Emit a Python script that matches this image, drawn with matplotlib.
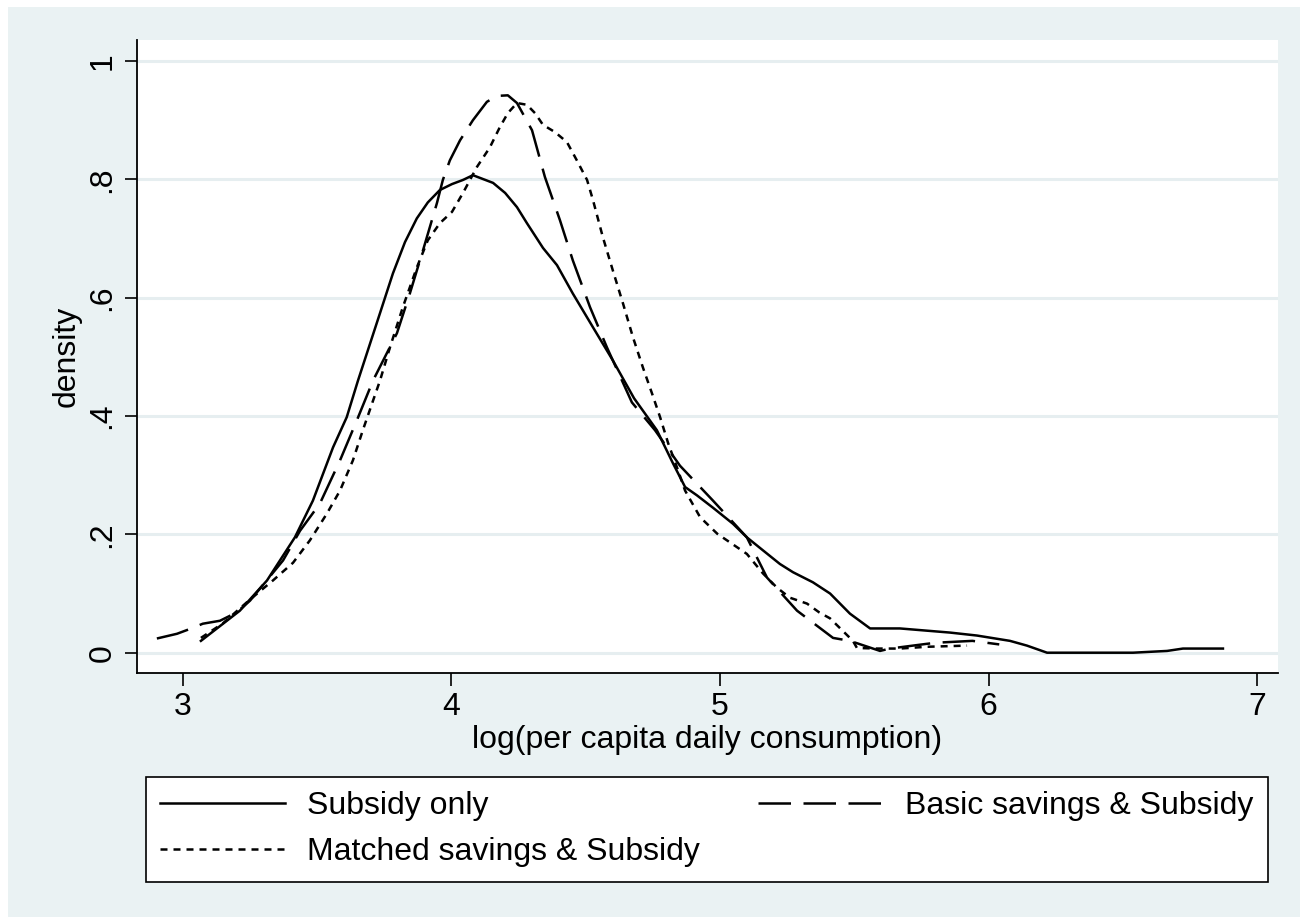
import matplotlib
matplotlib.use('Agg')
import matplotlib.pyplot as plt
from matplotlib.patches import Rectangle
from matplotlib.lines import Line2D

plt.rcParams['font.family'] = ['Liberation Sans', 'DejaVu Sans']

# Kernel density curves
subsidy_x = [3.067, 3.212, 3.313, 3.417, 3.484, 3.559, 3.61, 3.652, 3.734, 3.782,
             3.827, 3.871, 3.912, 3.957, 4.002, 4.043, 4.08, 4.155, 4.2, 4.244,
             4.281, 4.341, 4.393, 4.452, 4.527, 4.601, 4.68, 4.765, 4.825, 4.87,
             4.914, 4.974, 5.048, 5.1, 5.16, 5.223, 5.272, 5.346, 5.41, 5.484,
             5.559, 5.67, 5.857, 5.957, 6.08, 6.143, 6.218, 6.538, 6.665, 6.724, 6.873]
subsidy_y = [0.02, 0.071, 0.122, 0.195, 0.257, 0.347, 0.398, 0.46, 0.574, 0.641,
             0.694, 0.734, 0.761, 0.782, 0.792, 0.799, 0.807, 0.794, 0.777, 0.753,
             0.726, 0.684, 0.655, 0.607, 0.55, 0.494, 0.43, 0.376, 0.32, 0.28,
             0.266, 0.245, 0.218, 0.195, 0.173, 0.15, 0.136, 0.119, 0.1, 0.066,
             0.041, 0.041, 0.034, 0.029, 0.02, 0.012, 0.0, 0.0, 0.003, 0.007, 0.007]

basic_x = [2.903, 2.978, 3.037, 3.074, 3.138, 3.2, 3.25, 3.317, 3.373, 3.436,
           3.51, 3.585, 3.648, 3.708, 3.797, 3.845, 3.894, 3.946, 3.968, 3.994,
           4.032, 4.08, 4.132, 4.169, 4.21, 4.244, 4.30, 4.348, 4.404, 4.452,
           4.516, 4.579, 4.672, 4.758, 4.851, 4.974, 5.1, 5.175, 5.287, 5.421,
           5.484, 5.596, 5.633, 5.77, 5.81, 5.94, 5.99, 6.04]
basic_y = [0.024, 0.032, 0.042, 0.049, 0.054, 0.068, 0.088, 0.125, 0.156, 0.206,
           0.252, 0.325, 0.393, 0.46, 0.54, 0.607, 0.68, 0.76, 0.799, 0.832,
           0.866, 0.9, 0.931, 0.941, 0.942, 0.929, 0.883, 0.804, 0.731, 0.663,
           0.584, 0.516, 0.423, 0.376, 0.316, 0.257, 0.195, 0.127, 0.071, 0.025,
           0.02, 0.003, 0.007, 0.015, 0.017, 0.02, 0.017, 0.014]

matched_x = [3.067, 3.15, 3.25, 3.335, 3.41, 3.473, 3.536, 3.585, 3.633, 3.67,
             3.708, 3.734, 3.771, 3.819, 3.871, 3.912, 3.957, 4.002, 4.043, 4.095,
             4.143, 4.18, 4.21, 4.244, 4.281, 4.311, 4.341, 4.385, 4.43, 4.467,
             4.505, 4.527, 4.564, 4.601, 4.639, 4.676, 4.713, 4.747, 4.777, 4.807,
             4.84, 4.87, 4.926, 4.99, 5.1, 5.16, 5.212, 5.26, 5.324, 5.37,
             5.41, 5.495, 5.51, 5.585, 5.67, 5.77, 5.92]
matched_y = [0.025, 0.05, 0.09, 0.122, 0.152, 0.19, 0.235, 0.274, 0.325, 0.376,
             0.426, 0.46, 0.516, 0.584, 0.651, 0.697, 0.726, 0.745, 0.777, 0.821,
             0.854, 0.888, 0.912, 0.929, 0.926, 0.912, 0.892, 0.88, 0.863, 0.832,
             0.799, 0.765, 0.702, 0.646, 0.59, 0.533, 0.482, 0.438, 0.398, 0.354,
             0.313, 0.274, 0.229, 0.201, 0.167, 0.134, 0.11, 0.093, 0.083, 0.068,
             0.058, 0.02, 0.008, 0.007, 0.007, 0.01, 0.012]

x_ticks = [3, 4, 5, 6, 7]
y_ticks = [0, 0.2, 0.4, 0.6, 0.8, 1.0]
y_tick_labels = ['0', '.2', '.4', '.6', '.8', '1']

bg = '#EAF2F3'
fs = 23
lw = 1.8
long_dash = (0, (13, 5))
short_dash = (0, (2.8, 2.4))

fig = plt.figure(figsize=(13, 9.17), dpi=100, facecolor='white')
# Stata style outer region (thin white strip top and left)
outer = Rectangle((8 / 1300, 0), 1 - 8 / 1300, 1 - 7 / 917,
                  transform=fig.transFigure, facecolor=bg,
                  edgecolor='none', zorder=-10)
fig.add_artist(outer)

ax = fig.add_axes([137 / 1300, 1 - 673 / 917, (1278 - 137) / 1300, (673 - 40) / 917])
ax.set_facecolor('white')

ax.plot(subsidy_x, subsidy_y, color='black', lw=lw, ls='-', label='Subsidy only')
ax.plot(basic_x, basic_y, color='black', lw=lw, ls=long_dash, label='Basic savings & Subsidy')
ax.plot(matched_x, matched_y, color='black', lw=lw, ls=short_dash, label='Matched savings & Subsidy')

ax.set_xlim(2.829, 7.078)
ax.set_ylim(-0.0343, 1.0355)
ax.set_xticks(x_ticks)
ax.set_xticklabels([str(v) for v in x_ticks])
ax.set_yticks(y_ticks)
ax.set_yticklabels(y_tick_labels, rotation=90, va='center')
ax.tick_params(axis='both', direction='out', length=9, width=1.2, color='black',
               labelsize=fs, pad=5)
ax.yaxis.grid(True, color='#E6EEF0', lw=2.2)
ax.set_axisbelow(True)

for side in ['top', 'right']:
    ax.spines[side].set_visible(False)
for side in ['left', 'bottom']:
    ax.spines[side].set_linewidth(1.3)
    ax.spines[side].set_color('black')

ax.set_xlabel('log(per capita daily consumption)', fontsize=fs, labelpad=2)
ax.set_ylabel('density', fontsize=fs, labelpad=4)

handles = [
    Line2D([], [], color='black', lw=lw, ls='-'),
    Line2D([], [], color='black', lw=lw, ls=short_dash),
    Line2D([], [], color='black', lw=lw, ls=long_dash),
]
labels = ['Subsidy only', 'Matched savings & Subsidy', 'Basic savings & Subsidy']
leg = fig.legend(handles, labels, ncol=2, loc='upper left',
                 bbox_to_anchor=(146 / 1300, 0, (1268 - 146) / 1300, 1 - 777 / 917),
                 mode='expand', fontsize=fs, frameon=True, fancybox=False,
                 edgecolor='black', facecolor='white', framealpha=1,
                 handlelength=3.9, handletextpad=0.7, labelspacing=0.5,
                 borderpad=0.45, borderaxespad=0)
leg.get_frame().set_linewidth(1.2)

fig.savefig('out.png', dpi=100, facecolor=fig.get_facecolor())
